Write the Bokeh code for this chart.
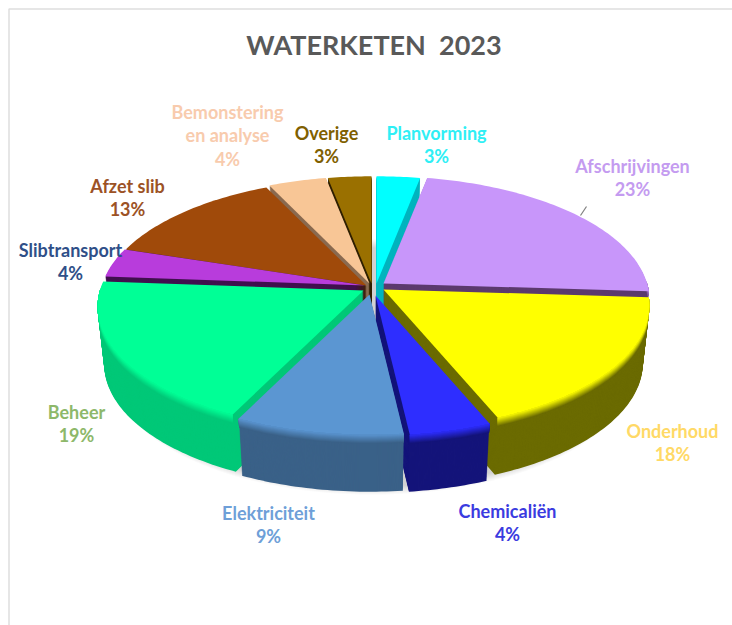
from math import cos, sin, pi
from bokeh.plotting import figure
from bokeh.models import Range1d
from bokeh.core.properties import value
from bokeh.embed import file_html
from bokeh.resources import INLINE

title = "WATERKETEN\u00a0 2023"
categories = ["Planvorming", "Afschrijvingen", "Onderhoud", "Chemicaliën", "Elektriciteit",
              "Beheer", "Slibtransport", "Afzet slib", "Bemonstering\nen analyse", "Overige"]
# slice sizes; they round to the printed percentages
values = [3.0, 23.0, 17.8, 4.4, 9.0, 19.0, 3.8, 13.0, 4.0, 3.0]

top_colors = ["#00FFFF", "#C896FA", "#FFFF00", "#2E2EFF", "#5B96D2",
              "#00FF96", "#B83CDC", "#A04A0A", "#F8C696", "#9A7000"]
side_colors = ["#00B4BE", "#5C3A6E", "#6B6B00", "#14147A", "#3A6188",
               "#00C878", "#40104E", "#40200A", "#8A6A50", "#302000"]
text_colors = ["#2FEFF5", "#C49BF0", "#FFD966", "#3B3BE0", "#6E9FD8",
               "#8DB86A", "#2F4F88", "#9C5225", "#F8CBAD", "#7F6000"]

# layout (pixels)
W, H = 732, 625
CX, CY, DEPTH, BEVEL, TAPER = 372, 286, 57, 9, 0.025
ALPHA, BETA, K = 263.6, 121.5, 0.1336   # perspective of the pie's top face
offsets = [(4, -3), (11, -3), (11, 3), (3, 9), (-3, 8), (-9, 4), (-7, -1), (-6, -1), (-3, -3), (-1, -3)]
label_pos = [(436, 132), (632, 165), (672, 430), (507, 510), (268, 512),
             (76, 411), (70, 249), (127, 185), (227, 111), (326, 132)]
LINE = 23.7
draw_order = [9, 0, 8, 1, 7, 6, 5, 2, 3, 4]


def hex2rgb(h):
    return tuple(int(h[i:i + 2], 16) for i in (1, 3, 5))


def lerp(c1, c2, t):
    a, b = hex2rgb(c1), hex2rgb(c2)
    return "#%02x%02x%02x" % tuple(round(a[i] + (b[i] - a[i]) * t) for i in range(3))


def rim(theta):
    front = -cos(theta)
    w = 1 - K * front
    return ALPHA * sin(theta) / w, BETA * front / w


def sunk(points, dx, dy, d):
    """Rim points moved down by depth d; the lower edge of the pie is slightly narrower."""
    s = 1 - TAPER * d / DEPTH
    return [CX + dx + x * s for x, y in points], [CY + dy + y + d for x, y in points]


p = figure(width=W, height=H, x_range=Range1d(0, W), y_range=Range1d(H, 0),
           toolbar_location=None, output_backend="svg", min_border=0,
           x_axis_type=None, y_axis_type=None, outline_line_color=None)
p.grid.visible = False

# card border
p.line([732, 8.5, 8.5], [8.5, 8.5, 625], line_color="#dedede", line_width=1.5)

# soft shadow under the pie
ring = [rim(2 * pi * i / 180) for i in range(180)]
for k in range(1, 10):
    p.patch([CX + x * 0.98 for x, y in ring], [CY + y + DEPTH + k + 2 for x, y in ring],
            fill_color="#000000", fill_alpha=0.018, line_color=None)

# slices
cum = 0.0
polys, fronts = [], []
for s in values:
    t0, t1 = cum / 100 * 2 * pi, (cum + s) / 100 * 2 * pi
    cum += s
    n = int(s * 3) + 4
    thetas = [t0 + (t1 - t0) * j / n for j in range(n + 1)]
    polys.append([rim(t) for t in thetas])
    fronts.append([rim(t) for t in thetas if cos(t) < 0.02])

all_xs, all_ys, all_cols = [], [], []
for i in draw_order:
    dx, dy = offsets[i]
    pts = [(0.0, 0.0)] + polys[i]
    # body: cut faces and outer wall
    for d in range(DEPTH, 0, -1):
        xs, ys = sunk(pts, dx, dy, d)
        all_xs.append(xs)
        all_ys.append(ys)
        all_cols.append(side_colors[i])
    # soft bevel along the outer rim only
    if len(fronts[i]) > 1:
        top_x, top_y = sunk(fronts[i], dx, dy, 0)
        for d in range(BEVEL, 0, -1):
            xs, ys = sunk(fronts[i], dx, dy, d)
            all_xs.append(xs + top_x[::-1])
            all_ys.append(ys + top_y[::-1])
            all_cols.append(lerp(top_colors[i], side_colors[i], d / BEVEL))
    # top face
    xs, ys = sunk(pts, dx, dy, 0)
    all_xs.append(xs)
    all_ys.append(ys)
    all_cols.append(top_colors[i])
p.patches(all_xs, all_ys, fill_color=all_cols, line_color=None)

# leader line
p.line([580, 586], [215, 206], line_color="#7f7f7f", line_width=1.2)

# title
p.text([373.5], [44], text=[title], text_font=value("Lato"), text_font_style="bold",
       text_font_size="27px", text_color="#595959", text_align="center", text_baseline="middle")

# labels
for i, cat in enumerate(categories):
    lines = cat.split("\n") + ["%d%%" % round(values[i])]
    x0, y0 = label_pos[i]
    for j, t in enumerate(lines):
        p.text([x0], [y0 + j * LINE], text=[t], text_font=value("Lato"), text_font_style="bold",
               text_font_size="18px", text_color=text_colors[i], text_align="center",
               text_baseline="middle")

open("out.html", "w").write(file_html(p, INLINE))
